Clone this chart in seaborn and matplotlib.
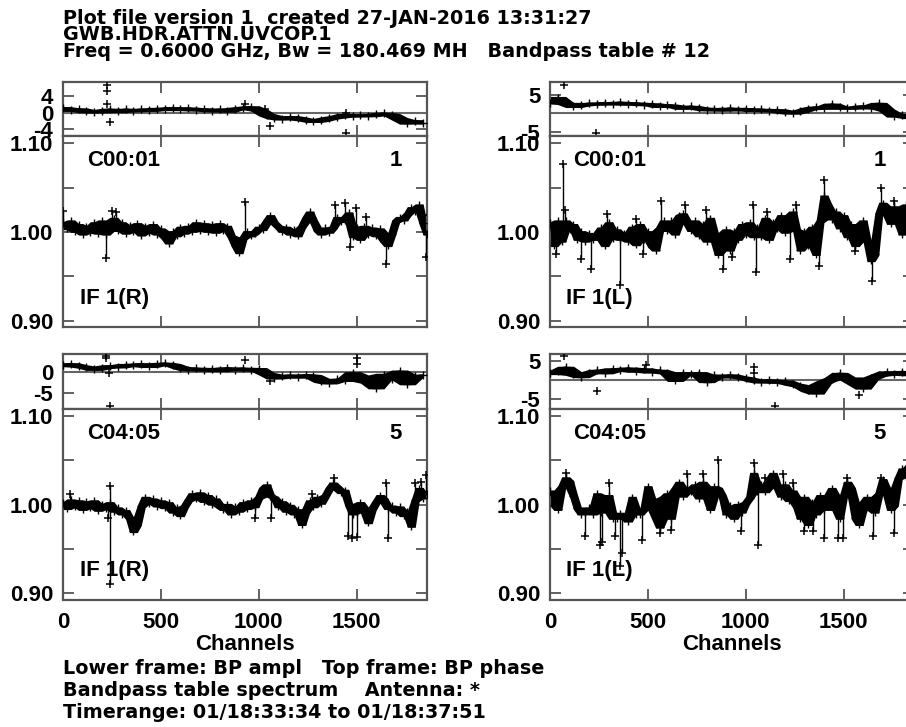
import numpy as np
import pandas as pd
import seaborn as sns
import matplotlib.pyplot as plt

sns.set_style("ticks")
plt.rcParams['font.family'] = ['Liberation Sans', 'DejaVu Sans']
plt.rcParams['font.weight'] = 'bold'
for k in ['text.color', 'axes.labelcolor', 'xtick.labelcolor', 'ytick.labelcolor']:
    plt.rcParams[k] = 'black'

# amplitude sampled every 20 channels, phase every 40 channels
AMP_STEP = 20
PH_STEP = 40

amp_c01_r = [1.010, 1.004, 1.012, 1.001, 1.008, 0.998, 1.006, 1.000, 1.010, 0.999,
             1.012, 0.998, 1.008, 1.015, 1.002, 1.010, 0.999, 1.007, 1.001, 1.009,
             0.997, 1.006, 1.000, 1.008, 0.998, 1.003, 0.994, 0.988, 1.000, 0.996,
             1.005, 0.999, 1.006, 1.001, 1.010, 1.002, 1.009, 1.001, 1.008, 1.000,
             1.009, 1.002, 1.006, 0.995, 0.985, 0.977, 0.993, 1.000, 0.996, 0.999,
             1.005, 1.003, 1.012, 1.018, 1.010, 1.006, 1.001, 1.005, 0.998, 1.002,
             0.996, 1.006, 1.015, 1.022, 1.012, 1.002, 0.998, 1.004, 1.000, 1.005,
             1.016, 1.012, 1.014, 1.021, 0.995, 1.005, 0.992, 1.006, 0.998, 1.004,
             0.996, 1.003, 0.990, 0.985, 0.998, 1.012, 1.016, 1.014, 1.020, 1.027,
             1.024, 1.030, 1.010, 0.998]
amp_c01_l = [1.010, 0.985, 1.012, 0.990, 1.012, 1.003, 1.008, 0.992, 1.000, 0.990,
             0.998, 0.992, 0.996, 1.004, 0.985, 1.010, 0.993, 1.002, 0.992, 0.998,
             0.990, 1.005, 0.986, 1.008, 0.992, 1.000, 0.984, 0.980, 1.004, 1.012,
             1.002, 1.012, 0.998, 1.018, 1.020, 1.010, 1.002, 1.012, 0.996, 1.008,
             0.990, 1.015, 0.998, 0.975, 0.985, 1.002, 0.980, 1.000, 0.992, 1.008,
             0.998, 1.010, 0.995, 1.004, 0.995, 1.015, 0.992, 1.010, 1.004, 1.018,
             1.000, 1.015, 1.022, 1.002, 0.980, 1.000, 0.985, 1.005, 0.975, 1.012,
             1.040, 1.030, 1.015, 1.022, 1.005, 1.018, 0.995, 1.008, 0.985, 1.004,
             1.012, 0.990, 0.968, 0.975, 1.020, 1.032, 1.025, 1.010, 1.028, 1.020,
             0.998, 1.030, 1.015, 1.022]
amp_c45_r = [1.002, 0.996, 1.005, 0.998, 1.004, 0.995, 1.003, 0.997, 1.004, 0.994,
             1.000, 0.996, 1.002, 0.993, 0.996, 0.990, 0.993, 0.985, 0.970, 0.978,
             0.998, 1.008, 1.002, 1.006, 0.999, 1.004, 0.997, 1.002, 0.992, 0.996,
             0.988, 0.998, 1.005, 1.012, 1.007, 1.013, 1.004, 1.010, 1.001, 1.006,
             0.998, 0.995, 1.000, 0.990, 0.997, 0.993, 1.002, 0.996, 1.004, 0.998,
             1.008, 1.018, 1.022, 1.010, 1.008, 0.998, 1.003, 0.993, 0.999, 0.990,
             0.994, 0.978, 0.992, 1.004, 0.998, 1.008, 1.002, 1.010, 1.018, 1.024,
             1.020, 1.014, 1.016, 1.000, 0.990, 0.992, 1.002, 0.996, 0.980, 0.995,
             1.003, 1.010, 1.006, 0.996, 0.998, 0.992, 0.997, 0.988, 0.992, 0.976,
             1.005, 1.018, 1.008, 1.012]
amp_c45_l = [1.015, 1.000, 0.995, 1.020, 1.030, 1.026, 1.010, 0.996, 0.990, 0.992,
             0.996, 0.990, 1.012, 0.992, 1.000, 1.010, 0.985, 0.985, 0.990, 0.985,
             0.982, 1.008, 0.990, 0.990, 0.995, 1.020, 1.006, 0.985, 0.975, 1.008,
             1.012, 0.985, 1.018, 1.025, 1.010, 1.018, 1.015, 1.022, 1.008, 1.025,
             1.012, 0.995, 1.020, 1.018, 1.010, 0.990, 0.998, 0.985, 1.000, 0.992,
             1.002, 1.008, 1.035, 1.015, 1.022, 1.015, 1.028, 1.035, 1.020, 1.010,
             1.022, 1.005, 1.015, 0.998, 0.985, 1.008, 0.978, 1.002, 0.990, 1.010,
             0.995, 1.005, 1.018, 0.995, 0.985, 1.010, 1.025, 1.018, 0.985, 0.978,
             1.002, 1.008, 0.995, 0.992, 1.012, 1.028, 1.018, 0.995, 1.000, 1.030,
             1.040, 1.032, 1.045, 1.040]

# single-channel spikes sticking out of the amplitude band (channel, value)
spk_c01_r_x = [2, 219, 250, 270, 932, 1388, 1439, 1465, 1495, 1550, 1648, 1840, 1855]
spk_c01_r_y = [1.024, 0.971, 1.024, 1.022, 1.034, 1.030, 1.033, 0.983, 1.027, 1.017,
               0.964, 1.019, 0.972]
spk_c01_l_x = [30, 68, 76, 160, 212, 289, 357, 441, 475, 569, 688, 798, 883, 930,
               1036, 1053, 1110, 1225, 1256, 1375, 1401, 1560, 1647, 1690, 1760]
spk_c01_l_y = [0.975, 1.076, 1.025, 0.970, 0.958, 1.020, 0.940, 1.015, 0.975, 1.035,
               1.030, 1.025, 0.958, 0.972, 1.030, 0.955, 1.022, 0.970, 1.030, 0.962,
               1.058, 0.978, 0.945, 1.049, 1.035]
spk_c45_r_x = [35, 232, 240, 240, 980, 1065, 1270, 1383, 1455, 1475, 1500, 1650, 1660,
               1800, 1830, 1857]
spk_c45_r_y = [1.012, 0.985, 1.021, 0.910, 0.985, 0.985, 1.012, 1.030, 0.965, 0.962,
               0.963, 1.025, 0.962, 1.025, 1.026, 1.034]
spk_c45_l_x = [80, 180, 255, 265, 300, 330, 360, 370, 470, 560, 620, 700, 780, 860,
               975, 1040, 1065, 1100, 1190, 1240, 1300, 1345, 1400, 1470, 1495, 1520,
               1650, 1690, 1760]
spk_c45_l_y = [1.036, 0.965, 0.955, 0.958, 1.025, 0.965, 0.931, 0.945, 0.960, 0.968,
               0.972, 1.035, 1.035, 1.050, 0.970, 1.047, 0.955, 1.030, 1.035, 1.025,
               0.970, 0.970, 0.962, 0.962, 0.962, 1.030, 0.965, 1.030, 0.968]

ph_c01_r = [1.2, 0.6, 0.9, 0.3, 0.2, 0.5, 0.8, 0.3, 0.8, 0.5, 0.8, 0.6, 1.0, 0.8,
            1.2, 0.8, 1.1, 0.7, 0.9, 0.5, 0.8, 0.4, 1.0, 1.2, 1.4, 0.7, -0.5, -1.2,
            -1.5, -1.0, -1.3, -1.7, -2.1, -1.8, -1.3, -1.0, -0.5, -0.8, -0.6, -0.7,
            -0.4, -0.2, -0.5, -1.5, -2.5, -2.0, -2.5]
ph_c01_l = [2.8, 4.2, 2.6, 1.8, 2.2, 2.6, 2.4, 2.8, 2.5, 2.9, 2.4, 2.7, 2.3, 2.5,
            1.8, 2.2, 1.9, 1.3, 1.8, 1.4, 0.9, 1.2, 0.8, 1.3, 0.9, 1.2, 0.7, 1.0,
            0.6, 0.9, 0.2, 0.0, 0.5, 1.2, 1.6, 1.3, 2.4, 1.6, 1.3, 1.6, 1.9, 1.4,
            2.6, 0.8, -0.8, -0.4, -1.2]
ph_c45_r = [1.6, 2.0, 1.5, 1.2, 0.7, 1.1, 1.5, 1.3, 1.8, 1.6, 2.0, 1.4, 1.9, 2.1,
            1.8, 1.1, 0.6, 0.9, 0.5, 0.8, 0.4, 1.0, 0.6, 0.9, 0.5, 0.8, -0.4, -1.4,
            -1.0, -0.8, -1.2, -0.7, -0.9, -2.2, -2.6, -1.8, -2.0, -0.2, -1.0, -2.4,
            -3.8, -0.6, -1.6, 0.2, -2.8, -1.0, -0.8]
ph_c45_l = [1.8, 2.4, 3.4, 1.6, 1.0, 2.0, 2.6, 2.0, 3.0, 2.6, 3.2, 2.4, 3.0, 2.2,
            2.6, 2.0, 0.0, 2.0, 1.6, 2.0, -0.3, 1.3, 0.9, 1.4, 0.9, 0.6, 0.0, -0.4,
            0.1, -0.5, -0.2, -1.0, -1.4, -2.6, -3.3, -0.4, 0.4, 1.8, 0.6, -0.8,
            -2.0, 0.6, 1.4, 2.2, 1.6, 2.3, 1.5]

# isolated phase points (channel, value)
ph_out_c01_r_x = [223, 223, 225, 240, 932, 1031, 1056, 1447, 1447]
ph_out_c01_r_y = [6.8, 5.2, 2.0, -2.2, 2.1, 0.8, -3.3, -0.2, -4.9]
ph_out_c01_l_x = [70, 236]
ph_out_c01_l_y = [7.6, -5.4]
ph_out_c45_r_x = [222, 222, 235, 240, 932, 1060, 1500, 1500]
ph_out_c45_r_y = [3.8, 3.4, -0.3, -8.2, 2.9, -2.2, 3.5, 1.9]
ph_out_c45_l_x = [70, 240, 490, 1040, 1040, 1150, 1580]
ph_out_c45_l_y = [6.3, -2.7, 4.0, 3.5, 2.0, -6.6, -3.8]

panels = [
    ("C00:01", "IF 1(R)", "1", ph_c01_r, ph_out_c01_r_x, ph_out_c01_r_y, amp_c01_r,
     spk_c01_r_x, spk_c01_r_y, (-5.7, 7.5), [-4, 0, 4]),
    ("C00:01", "IF 1(L)", "1", ph_c01_l, ph_out_c01_l_x, ph_out_c01_l_y, amp_c01_l,
     spk_c01_l_x, spk_c01_l_y, (-6.2, 8.4), [-5, 5]),
    ("C04:05", "IF 1(R)", "5", ph_c45_r, ph_out_c45_r_x, ph_out_c45_r_y, amp_c45_r,
     spk_c45_r_x, spk_c45_r_y, (-9.0, 4.4), [-5, 0]),
    ("C04:05", "IF 1(L)", "5", ph_c45_l, ph_out_c45_l_x, ph_out_c45_l_y, amp_c45_l,
     spk_c45_l_x, spk_c45_l_y, (-7.5, 6.9), [-5, 5]),
]

W, H = 906, 727
fig = plt.figure(figsize=(W / 100, H / 100), dpi=100)


def rect(x0, top, w, bottom):
    return [x0 / W, 1 - bottom / H, w / W, (bottom - top) / H]


frame_col = '#555555'
lefts = [63, 550, 63, 550]
tops = [(82, 136, 327), (82, 136, 327), (354, 409, 599.5), (354, 409, 599.5)]
head_font = dict(family='DejaVu Sans', fontsize=13.8, fontweight='bold', color='black')


def style(ax):
    for s in ax.spines.values():
        s.set_color(frame_col)
        s.set_linewidth(1.6)
    ax.tick_params(which='both', direction='in', length=8, width=1.3, color=frame_col,
                   labelcolor='black', top=True, right=True, labelsize=16, pad=7)
    ax.set_xlim(0, 1860)
    ax.set_xticks([0, 500, 1000, 1500])
    ax.set_xlabel("")
    ax.set_ylabel("")


def band(ax, d, col, pad, lw, ms):
    # dense band: local min / max of neighbouring samples, widened a little
    lo = d[col].rolling(3, center=True, min_periods=1).min() - pad
    hi = d[col].rolling(3, center=True, min_periods=1).max() + pad
    ax.fill_between(d["ch"], lo, hi, color='black', lw=0, zorder=2)
    sns.lineplot(data=d, x="ch", y=col, ax=ax, color='black', lw=lw,
                 marker='+', markersize=ms, markeredgewidth=1.0, markeredgecolor='black',
                 estimator=None, sort=False, zorder=3)


for i, (base, pol, ant, ph, pox, poy, amp, sx, sy, plim, pticks) in enumerate(panels):
    x0 = lefts[i]
    t_ph, t_amp, b_amp = tops[i]
    ax_p = fig.add_axes(rect(x0, t_ph, 364, t_amp))
    ax_a = fig.add_axes(rect(x0, t_amp, 364, b_amp))

    dph = pd.DataFrame({"ch": np.arange(len(ph)) * PH_STEP, "phase": ph})
    dam = pd.DataFrame({"ch": np.arange(len(amp)) * AMP_STEP, "amp": amp})

    # phase frame
    ax_p.axhline(0, color='#666666', lw=1.5, zorder=1)
    band(ax_p, dph, "phase", 0.3, 1.5, 6)
    sns.scatterplot(x=pox, y=poy, ax=ax_p, marker='+', color='black', s=40,
                    linewidth=1.1, zorder=4)
    ax_p.set_ylim(*plim)
    ax_p.set_yticks(pticks)
    ax_p.set_yticklabels([str(t) for t in pticks])
    style(ax_p)
    ax_p.tick_params(labelbottom=False)

    # amplitude frame
    band(ax_a, dam, "amp", 0.0015, 1.0, 6)
    base_vals = [amp[min(int(round(c / AMP_STEP)), len(amp) - 1)] for c in sx]
    ax_a.vlines(sx, base_vals, sy, color='black', lw=1.0, zorder=3)
    sns.scatterplot(x=sx, y=sy, ax=ax_a, marker='+', color='black', s=40,
                    linewidth=1.1, zorder=4)
    ax_a.set_ylim(0.893, 1.108)
    ax_a.set_yticks([0.90, 1.00, 1.10])
    ax_a.set_yticklabels(['0.90', '1.00', '1.10'])
    ax_a.set_yticks([0.95, 1.05], minor=True)
    style(ax_a)
    if i < 2:
        ax_a.tick_params(labelbottom=False)
    else:
        ax_a.tick_params(axis='x', pad=9)
        ax_a.set_xlabel("Channels", fontsize=16, fontweight='bold', labelpad=1,
                        color='black')

    lx = 0.066 if i % 2 == 0 else 0.063
    ax_a.text(lx, 0.87, base, transform=ax_a.transAxes, fontsize=16,
              fontweight='bold', va='center', ha='left', color='black')
    ax_a.text(0.93 if i % 2 == 0 else 0.922, 0.87, ant, transform=ax_a.transAxes,
              fontsize=16, fontweight='bold', va='center', ha='right', color='black')
    ax_a.text(0.047 if i % 2 == 0 else 0.044, 0.15, pol, transform=ax_a.transAxes,
              fontsize=16, fontweight='bold', va='center', ha='left', color='black')

head = ["Plot file version 1  created 27-JAN-2016 13:31:27",
        "GWB.HDR.ATTN.UVCOP.1",
        "Freq = 0.6000 GHz, Bw = 180.469 MH   Bandpass table # 12"]
for k, line in enumerate(head):
    fig.text(63 / W, 1 - [23.5, 40.3, 57.0][k] / H, line, va='baseline', ha='left',
             **head_font)

foot = ["Lower frame: BP ampl   Top frame: BP phase",
        "Bandpass table spectrum    Antenna: *",
        "Timerange: 01/18:33:34 to 01/18:37:51"]
for k, line in enumerate(foot):
    fig.text(63 / W, 1 - [674, 696, 718][k] / H, line, va='baseline', ha='left',
             **head_font)

fig.savefig("out.png", dpi=100)
